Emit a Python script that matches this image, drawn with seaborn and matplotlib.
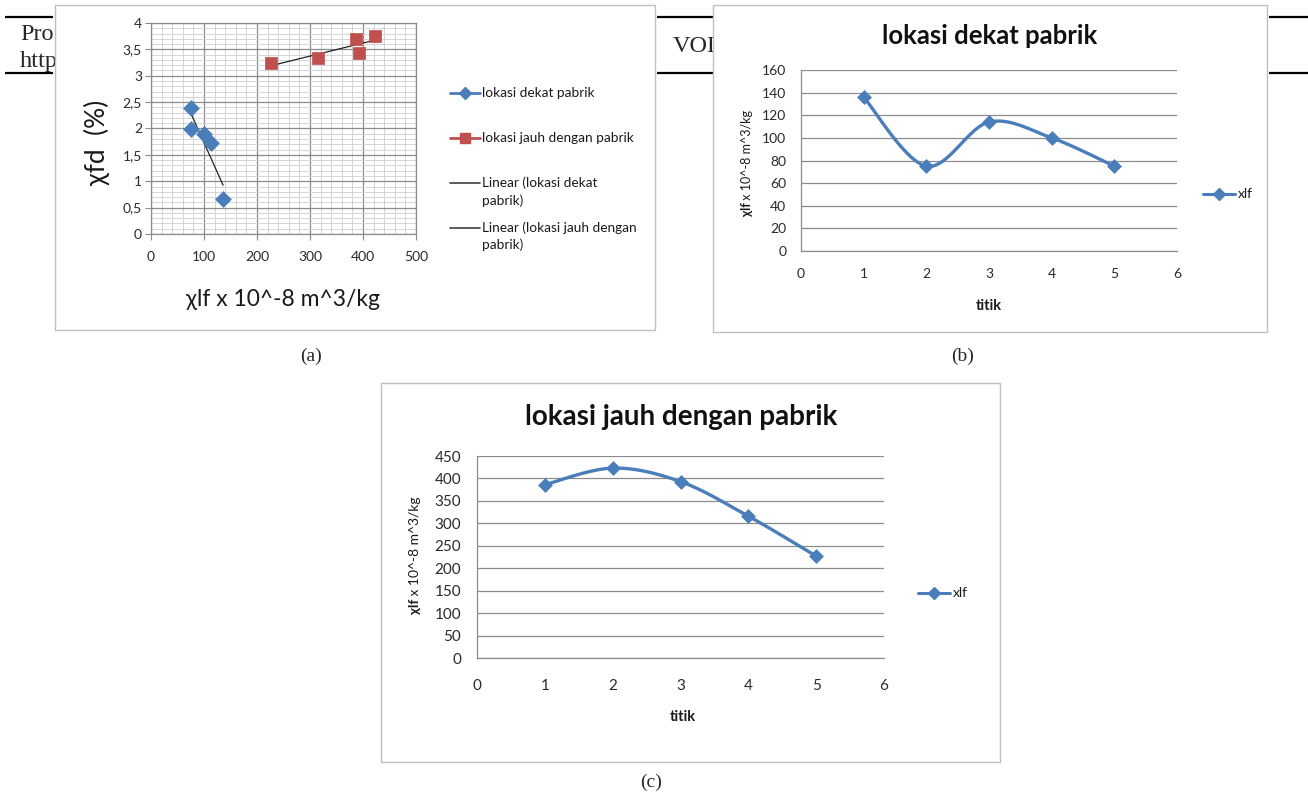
import numpy as np
import pandas as pd
import seaborn as sns
import matplotlib
matplotlib.use("Agg")
import matplotlib.pyplot as plt
from matplotlib.patches import Rectangle
from matplotlib.ticker import MultipleLocator, FuncFormatter

# ---------------- data ----------------
titik = [1, 2, 3, 4, 5]
xlf_dekat = [136, 75, 114, 100, 75]
xfd_dekat = [0.66, 2.39, 1.73, 1.89, 1.99]
xlf_jauh = [386, 423, 393, 316, 227]
xfd_jauh = [3.70, 3.76, 3.44, 3.33, 3.24]

name_dekat = "lokasi dekat pabrik"
name_jauh = "lokasi jauh dengan pabrik"
legend_a = ["lokasi dekat pabrik", "lokasi jauh dengan pabrik",
            "Linear (lokasi dekat", "pabrik)",
            "Linear (lokasi jauh dengan", "pabrik)"]
xticks_a = [0, 100, 200, 300, 400, 500]
yticks_a = [0, 0.5, 1, 1.5, 2, 2.5, 3, 3.5, 4]
xticks_bc = [0, 1, 2, 3, 4, 5, 6]
yticks_b = [0, 20, 40, 60, 80, 100, 120, 140, 160]
yticks_c = [0, 50, 100, 150, 200, 250, 300, 350, 400, 450]

BLUE = "#4a7ebb"
RED = "#c0504d"
GRID = "#8c8c8c"
TXT = "#1a1a1a"

sns.set_theme(style="white")
plt.rcParams["font.family"] = ["Lato", "DejaVu Sans"]

W, H = 1308, 798
fig = plt.figure(figsize=(W / 100, H / 100), dpi=100)
fig.patch.set_facecolor("white")

bg = fig.add_axes([0, 0, 1, 1], zorder=-1)
bg.set_xlim(0, W)
bg.set_ylim(H, 0)
bg.axis("off")

# page background (journal header partially hidden)
serif = ["Liberation Serif", "DejaVu Serif"]
for y in (17, 73):
    for x0, x1 in ((5, 53), (657, 713), (1269, 1308)):
        bg.plot([x0, x1], [y, y], color="black", lw=1.6, zorder=1, solid_capstyle="butt")
bg.text(20, 35, "Pro", family=serif, fontsize=17.5, va="center", zorder=1)
bg.text(20, 62, "http", family=serif, fontsize=17.5, va="center", zorder=1)
bg.text(673, 46, "VOL", family=serif, fontsize=17.5, va="center", zorder=1)

# chart frames
for (x, y, w, h) in ((55, 5, 600, 325), (713, 5, 554, 327), (381, 383, 619, 379)):
    bg.add_patch(Rectangle((x, y), w, h, facecolor="white", edgecolor="#bfbfbf", lw=1.0, zorder=2))

# captions
bg.text(311, 356, "(a)", family=serif, fontsize=14, ha="center", va="center", zorder=3)
bg.text(963, 356, "(b)", family=serif, fontsize=14, ha="center", va="center", zorder=3)
bg.text(651, 782, "(c)", family=serif, fontsize=14, ha="center", va="center", zorder=3)


def px_axes(l, t, r, b):
    ax = fig.add_axes([l / W, 1 - b / H, (r - l) / W, (b - t) / H], zorder=1)
    ax.set_facecolor("none")
    return ax


def smooth(xs, ys, n=30):
    pts = np.column_stack([xs, ys]).astype(float)
    P = np.vstack([pts[0], pts, pts[-1]])
    out = []
    t = np.linspace(0, 1, n)[:, None]
    for i in range(1, len(P) - 2):
        p0, p1, p2, p3 = P[i - 1], P[i], P[i + 1], P[i + 2]
        c1 = p1 + (p2 - p0) / 6
        c2 = p2 - (p3 - p1) / 6
        seg = (1 - t) ** 3 * p1 + 3 * (1 - t) ** 2 * t * c1 + 3 * (1 - t) * t ** 2 * c2 + t ** 3 * p2
        out.append(seg if i == 1 else seg[1:])
    return np.vstack(out)


comma = FuncFormatter(lambda v, p: f"{v:g}".replace(".", ","))

# ---------------- panel (a) ----------------
axa = px_axes(151, 23, 416, 234)
axa.set_axisbelow(True)
sns.scatterplot(x=xlf_dekat, y=xfd_dekat, marker="D", s=65, color=BLUE,
                edgecolor=BLUE, linewidth=0.5, ax=axa, zorder=4)
sns.scatterplot(x=xlf_jauh, y=xfd_jauh, marker="s", s=85, color=RED,
                edgecolor=RED, linewidth=0.5, ax=axa, zorder=4)
for xs, ys in ((xlf_dekat, xfd_dekat), (xlf_jauh, xfd_jauh)):
    coef = np.polyfit(xs, ys, 1)
    ends = np.array([min(xs), max(xs)], dtype=float)
    sns.lineplot(x=ends, y=np.polyval(coef, ends), color="#222222", lw=0.9, ax=axa, zorder=3)
axa.set_xlim(0, 500)
axa.set_ylim(0, 4)
axa.set_xticks(xticks_a)
axa.set_yticks(yticks_a)
axa.xaxis.set_minor_locator(MultipleLocator(20))
axa.yaxis.set_minor_locator(MultipleLocator(0.1))
axa.yaxis.set_major_formatter(comma)
axa.grid(which="minor", color="#cfcfcf", lw=0.6)
axa.grid(which="major", color=GRID, lw=0.9)
for s in axa.spines.values():
    s.set_color(GRID)
    s.set_linewidth(0.9)
axa.tick_params(which="minor", length=0)
axa.tick_params(which="major", bottom=True, left=True, length=4, width=0.8, color=GRID,
                labelsize=10, labelcolor="#2a2a2a")
axa.tick_params(axis="x", pad=8.5)
axa.tick_params(axis="y", pad=2.5)
axa.set_xlabel("")
axa.set_ylabel("")
bg.text(283, 300, "χlf x 10^-8 m^3/kg", fontsize=16.5, ha="center", va="center", color=TXT, zorder=3)
bg.text(97, 142, "χfd  (%)", fontsize=19, rotation=90, ha="center", va="center", color=TXT, zorder=3)

# legend (a)
bg.plot([450, 480], [93, 93], color=BLUE, lw=2, zorder=3)
bg.plot([465], [93], marker="D", ms=6.5, color=BLUE, zorder=4)
bg.plot([450, 480], [138, 138], color=RED, lw=2, zorder=3)
bg.plot([465], [138], marker="s", ms=7.5, color=RED, zorder=4)
bg.plot([450, 480], [183, 183], color="#404040", lw=1.2, zorder=3)
bg.plot([450, 480], [228, 228], color="#404040", lw=1.2, zorder=3)
for txt, y in zip(legend_a, (93, 138, 183, 201, 228, 245)):
    bg.text(482, y, txt, fontsize=9.8, va="center", color=TXT, zorder=3)


def vlabel(xc, yc, parts, size):
    r = fig.canvas.get_renderer()
    objs, hs = [], []
    for s, w in parts:
        t = bg.text(xc, yc, s, rotation=90, fontsize=size, fontweight=w,
                    ha="center", va="bottom", color=TXT, zorder=3)
        objs.append(t)
        hs.append(t.get_window_extent(r).height)
    cur = yc + sum(hs) / 2
    for t, h in zip(objs, hs):
        t.set_position((xc, cur))
        cur -= h


def line_panel(ax, ys, yticks, title, title_xy, title_size, titik_xy, lab_xy, lab_size,
               leg_x, leg_y, tick_size, xpad, ypad):
    curve = smooth(titik, ys)
    sns.lineplot(x=curve[:, 0], y=curve[:, 1], sort=False, estimator=None,
                 color=BLUE, lw=2.4, ax=ax, zorder=3)
    sns.scatterplot(x=titik, y=ys, marker="D", s=50, color=BLUE, edgecolor=BLUE,
                    linewidth=0.5, ax=ax, zorder=4)
    ax.set_xlim(0, 6)
    ax.set_ylim(0, yticks[-1])
    ax.set_xticks(xticks_bc)
    ax.set_yticks(yticks)
    ax.set_axisbelow(True)
    ax.grid(axis="y", color=GRID, lw=0.9)
    ax.grid(axis="x", visible=False)
    for k in ("top", "right"):
        ax.spines[k].set_visible(False)
    for k in ("left", "bottom"):
        ax.spines[k].set_color(GRID)
        ax.spines[k].set_linewidth(0.9)
    ax.tick_params(length=0, labelsize=tick_size, labelcolor="#2a2a2a")
    ax.tick_params(axis="x", pad=xpad)
    ax.tick_params(axis="y", pad=ypad)
    ax.set_xlabel("")
    ax.set_ylabel("")
    bg.text(title_xy[0], title_xy[1], title, fontsize=title_size, fontweight="bold",
            ha="center", va="center", color="#111111", zorder=3)
    bg.text(titik_xy[0], titik_xy[1], "titik", fontsize=10.5, fontweight="bold",
            ha="center", va="center", color=TXT, zorder=3)
    vlabel(lab_xy[0], lab_xy[1], [("χlf", "bold"), (" x 10^-8 m^3/kg", "normal")], lab_size)
    bg.plot([leg_x, leg_x + 32], [leg_y, leg_y], color=BLUE, lw=2.2, zorder=3)
    bg.plot([leg_x + 16], [leg_y], marker="D", ms=6.5, color=BLUE, zorder=4)
    bg.text(leg_x + 35, leg_y, "xlf", fontsize=10, va="center", color=TXT, zorder=3)


# ---------------- panel (b) ----------------
axb = px_axes(801, 70, 1177, 251)
line_panel(axb, xlf_dekat, yticks_b, name_dekat, (990, 36), 18.5, (989, 306), (747, 163), 9,
           1203, 194, 10, 12.5, 10.5)

# ---------------- panel (c) ----------------
axc = px_axes(477, 456, 884, 658)
line_panel(axc, xlf_jauh, yticks_c, name_jauh, (681, 417), 20, (683, 717), (415, 555), 10,
           918, 593, 11, 15, 11.5)

fig.savefig("out.png", dpi=100, facecolor="white")
